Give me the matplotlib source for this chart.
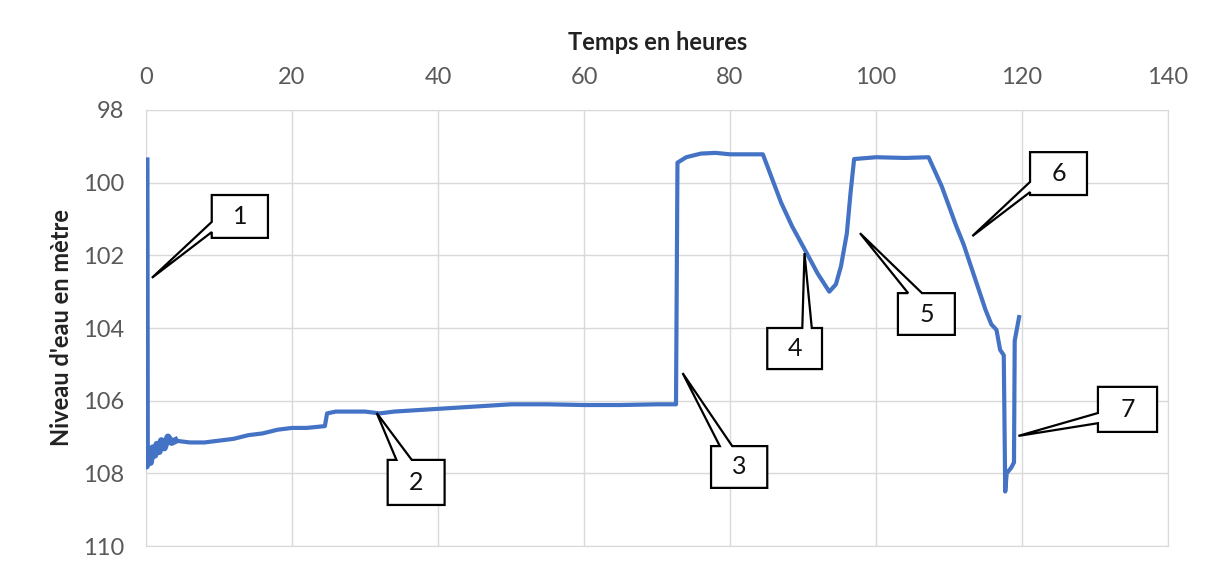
import matplotlib
matplotlib.use("Agg")
import matplotlib.pyplot as plt
from matplotlib.patches import Polygon

plt.rcParams['font.family'] = ['Lato', 'DejaVu Sans']

# Niveau d'eau (m) en fonction du temps (h)
temps = [0.0, 0.05, 0.3, 0.6, 0.9, 1.2, 1.5, 1.8, 2.1, 2.5, 3.0, 3.5, 4.0,
         6.0, 8.0, 10.0, 12.0, 14.0, 16.0, 18.0, 20.0, 22.0, 24.5, 24.8,
         26.0, 28.0, 30.0, 32.0, 34.0, 38.0, 42.0, 46.0, 50.0, 55.0, 60.0,
         65.0, 70.0, 72.6, 72.8, 74.0, 76.0, 78.0, 80.0, 82.0, 84.5, 87.0,
         88.5, 90.4, 92.0, 93.6, 94.5, 95.2, 96.0, 96.5, 97.0, 100.0, 104.0,
         107.2, 109.0, 111.0, 112.0, 113.0, 114.0, 115.0, 115.8, 116.5,
         117.0, 117.5, 117.7, 117.9, 118.5, 118.9, 119.0, 119.6]
niveau = [99.4, 107.8, 107.5, 107.7, 107.3, 107.5, 107.2, 107.4, 107.1,
          107.3, 107.0, 107.15, 107.1, 107.15, 107.15, 107.1, 107.05,
          106.95, 106.9, 106.8, 106.75, 106.75, 106.7, 106.35, 106.3, 106.3,
          106.3, 106.35, 106.3, 106.25, 106.2, 106.15, 106.1, 106.1, 106.12,
          106.12, 106.1, 106.1, 99.45, 99.3, 99.2, 99.18, 99.22, 99.22,
          99.22, 100.55, 101.2, 101.9, 102.5, 103.0, 102.8, 102.3, 101.4,
          100.3, 99.35, 99.3, 99.32, 99.3, 100.1, 101.2, 101.7, 102.3, 102.9,
          103.5, 103.9, 104.05, 104.6, 104.75, 108.5, 108.0, 107.85, 107.7,
          104.35, 103.7]

x_ticks = [0, 20, 40, 60, 80, 100, 120, 140]
y_ticks = [98, 100, 102, 104, 106, 108, 110]

# Bulles numerotees : (texte, boite x0, x1, y0, y1, cote, base1, base2, pointe)
callouts = [
    ("1", (9.0, 16.7, 100.34, 101.52), "left", 101.08, 101.36, (0.8, 102.62)),
    ("2", (33.1, 40.9, 107.63, 108.87), "top", 34.3, 36.4, (31.6, 106.34)),
    ("3", (77.4, 85.1, 107.25, 108.40), "top", 78.6, 80.3, (73.5, 105.24)),
    ("4", (85.1, 92.6, 104.0, 105.13), "top", 89.9, 91.2, (90.2, 101.94)),
    ("5", (103.0, 110.8, 103.04, 104.19), "top", 104.4, 106.3, (97.8, 101.39)),
    ("6", (121.1, 128.9, 99.16, 100.34), "left", 99.98, 100.26, (113.2, 101.47)),
    ("7", (130.4, 138.5, 105.62, 106.86), "left", 106.34, 106.62, (119.5, 106.97)),
]


def draw_callout(ax, text, box, side, b1, b2, tip):
    x0, x1, y0, y1 = box
    if side == "left":
        pts = [(x0, y0), (x1, y0), (x1, y1), (x0, y1), (x0, b2), tip, (x0, b1)]
    else:
        pts = [(x0, y0), (b1, y0), tip, (b2, y0), (x1, y0), (x1, y1), (x0, y1)]
    ax.add_patch(Polygon(pts, closed=True, facecolor='white', edgecolor='black',
                         linewidth=1.6, zorder=5))
    ax.text((x0 + x1) / 2, (y0 + y1) / 2, text, ha='center', va='center',
            fontsize=18, color='#111111', zorder=6)


fig = plt.figure(figsize=(12.06, 5.69), dpi=100)
ax = fig.add_axes([0.1211, 0.0404, 0.8474, 0.7663])

ax.plot(temps, niveau, color='#4472C4', linewidth=3, zorder=3)
ax.plot(temps[:13], niveau[:13], color='#4472C4', linewidth=5, zorder=3)

ax.set_xlim(0, 140)
ax.set_ylim(110, 98)
ax.set_xticks(x_ticks)
ax.set_yticks(y_ticks)
ax.xaxis.tick_top()
ax.tick_params(length=0, labelsize=17, colors='#595959')
ax.tick_params(axis='x', pad=16)
ax.tick_params(axis='y', pad=16)
ax.grid(True, color='#d9d9d9', linewidth=1)
for s in ax.spines.values():
    s.set_color('#d9d9d9')

# titres des axes places a la main
fig.text(0.5456, 0.926, "Temps en heures", fontsize=17, fontweight='bold',
         color='#222222', ha='center', va='center')
fig.text(0.0514, 0.424, "Niveau d'eau en mètre", fontsize=17, fontweight='bold',
         color='#222222', ha='center', va='center', rotation=90)

for c in callouts:
    draw_callout(ax, *c)

fig.savefig("out.png", dpi=100)
